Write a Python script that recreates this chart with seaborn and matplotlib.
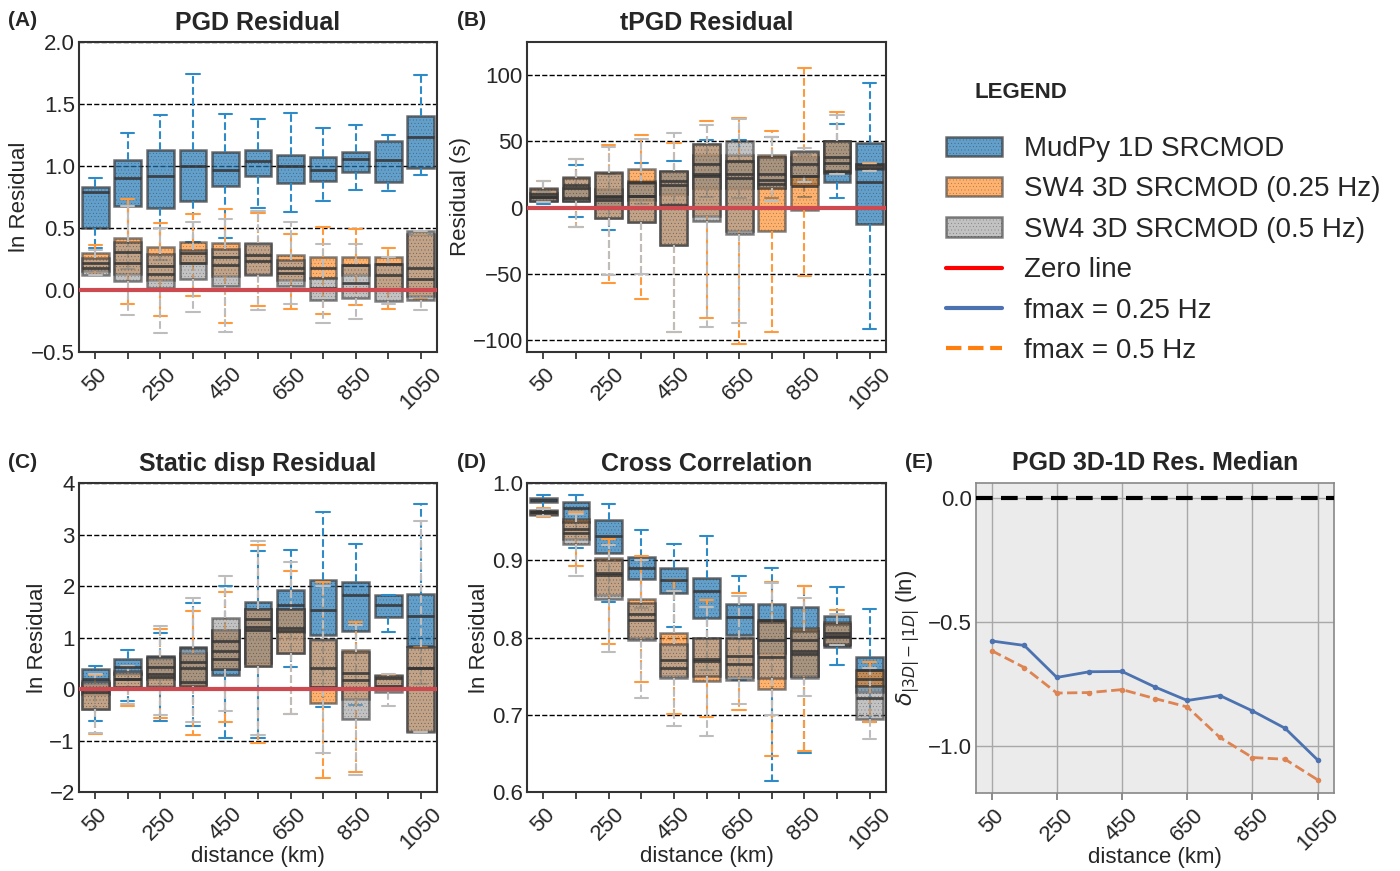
import numpy as np
import pandas as pd
import matplotlib
matplotlib.use("Agg")
import matplotlib.pyplot as plt
from matplotlib.patches import Patch
from matplotlib.lines import Line2D
import seaborn as sns

# distance bins (km)
distances = [50, 150, 250, 350, 450, 550, 650, 750, 850, 950, 1050]
dist_labels = [str(d) for d in distances]
shown_ticks = ["50", "", "250", "", "450", "", "650", "", "850", "", "1050"]

# five-number summaries per bin: (whisker low, q1, median, q3, whisker high)
pgd_mudpy = [(0.34, 0.50, 0.79, 0.83, 0.90), (0.17, 0.68, 0.90, 1.05, 1.27),
             (0.24, 0.66, 0.92, 1.13, 1.41), (0.39, 0.72, 1.00, 1.13, 1.74),
             (0.42, 0.84, 0.97, 1.11, 1.42), (0.66, 0.92, 1.04, 1.13, 1.38),
             (0.63, 0.86, 1.00, 1.09, 1.43), (0.72, 0.88, 0.97, 1.07, 1.31),
             (0.81, 0.95, 1.06, 1.11, 1.33), (0.80, 0.87, 1.05, 1.20, 1.25),
             (0.93, 0.98, 1.23, 1.40, 1.73)]
pgd_sw4_025 = [(0.13, 0.15, 0.22, 0.30, 0.36), (-0.11, 0.13, 0.31, 0.42, 0.73),
               (-0.21, 0.08, 0.19, 0.35, 0.54), (-0.05, 0.22, 0.30, 0.39, 0.61),
               (-0.27, 0.11, 0.27, 0.38, 0.65), (-0.13, 0.13, 0.28, 0.37, 0.62),
               (-0.15, 0.08, 0.18, 0.28, 0.45), (-0.19, 0.10, 0.18, 0.27, 0.51),
               (-0.12, 0.12, 0.20, 0.27, 0.49), (-0.15, 0.00, 0.21, 0.27, 0.34),
               (-0.07, -0.05, 0.18, 0.45, 0.45)]
pgd_sw4_05 = [(0.12, 0.12, 0.18, 0.26, 0.32), (-0.20, 0.07, 0.22, 0.39, 0.68),
              (-0.35, 0.02, 0.13, 0.29, 0.50), (-0.18, 0.09, 0.22, 0.32, 0.55),
              (-0.34, 0.03, 0.20, 0.33, 0.57), (-0.16, 0.12, 0.23, 0.38, 0.64),
              (-0.11, 0.035, 0.14, 0.24, 0.55), (-0.27, -0.08, 0.02, 0.10, 0.37),
              (-0.23, -0.065, 0.06, 0.20, 0.37), (-0.11, -0.086, 0.12, 0.21, 0.27),
              (-0.16, -0.083, 0.09, 0.476, 0.476)]

tpgd_mudpy = [(3, 5, 8, 11, 12), (-7, 5, 7, 15, 32), (-17, 0, 6, 14, 25),
              (2.5, 6, 9, 20, 34), (2.5, 10, 20, 27, 35), (8, 15, 25, 40, 51),
              (7, 15, 25, 35, 51), (7, 15, 25, 38, 53), (8, 18, 24, 38, 40),
              (7, 19.5, 28, 50, 63), (-92, -12.6, 19, 49, 94)]
tpgd_sw4_025 = [(5, 6, 10, 15, 20), (-15, 6, 17, 23, 37), (-57, -8, 9, 27, 47),
                (-69, -11, 19, 29, 55), (-94, -28, 1.8, 28, 49), (-83, -6, 24, 48, 65),
                (-103, -18, 22, 40, 68), (-94, -18, 18, 40, 58), (-52, -2, 16, 42, 105),
                (25, 26, 34, 50, 72), (29, 30, 32, 33, 34)]
tpgd_sw4_05 = [(4, 5, 8, 14, 20), (-15, 5, 15, 22, 37), (-51, -8, 8, 26, 46),
               (-50, -11, 9, 18.7, 52), (-94, -28, 17, 28, 56), (-90, -10, 33, 48, 62),
               (-87, -20, 35, 50, 67), (5, 15, 21, 38, 53), (19, 24, 33, 43, 45),
               (25, 27, 38, 50, 70), (28, 29, 30, 33, 33)]

static_mudpy = [(-0.62, -0.10, 0.19, 0.38, 0.45), (-0.23, 0.30, 0.43, 0.575, 0.75),
                (-0.62, 0.20, 0.43, 0.65, 1.09), (-0.72, 0.10, 0.52, 0.82, 1.67),
                (-0.96, 0.27, 0.74, 1.14, 2.00), (-0.96, 0.50, 1.21, 1.69, 2.67),
                (0.43, 1.10, 1.64, 1.93, 2.70), (-0.34, 1.04, 1.53, 2.11, 3.43),
                (-0.32, 1.12, 1.82, 2.08, 2.82), (1.10, 1.40, 1.64, 1.82, 1.82),
                (0.09, 0.83, 1.42, 1.84, 3.60)]
static_sw4_025 = [(-0.88, -0.38, -0.06, 0.12, 0.28), (-0.33, 0.03, 0.19, 0.32, 0.42),
                  (-0.56, 0.05, 0.24, 0.60, 1.16), (-0.90, 0.05, 0.14, 0.70, 1.51),
                  (-0.64, 0.38, 0.58, 1.14, 1.88), (-1.04, 0.45, 1.14, 1.55, 2.79),
                  (-0.49, 0.70, 1.19, 1.55, 2.30), (-1.72, -0.27, 0.045, 0.95, 2.08),
                  (-1.62, -0.20, 0.32, 0.75, 1.30), (0.00, 0.05, 0.22, 0.28, 0.28),
                  (-0.81, -0.81, 0.41, 0.82, 0.82)]
static_sw4_05 = [(-0.86, -0.38, 0.00, 0.15, 0.30), (-0.30, 0.03, 0.20, 0.35, 0.45),
                 (-0.51, 0.03, 0.30, 0.62, 1.23), (-0.64, 0.05, 0.41, 0.80, 1.77),
                 (-0.43, 0.38, 0.93, 1.37, 2.19), (-0.90, 0.45, 1.35, 1.55, 2.88),
                 (-0.49, 0.70, 1.12, 1.55, 2.46), (-1.25, 0.00, 0.40, 0.98, 2.00),
                 (-1.67, -0.58, 0.17, 0.72, 1.25), (-0.33, -0.05, 0.06, 0.26, 0.30),
                 (-0.83, -0.83, 0.41, 0.82, 3.26)]

xcorr_mudpy = [(0.965, 0.976, 0.978, 0.980, 0.984), (0.916, 0.950, 0.967, 0.975, 0.985),
               (0.846, 0.910, 0.932, 0.952, 0.973), (0.838, 0.876, 0.890, 0.904, 0.939),
               (0.814, 0.858, 0.875, 0.890, 0.921), (0.758, 0.825, 0.860, 0.877, 0.931),
               (0.745, 0.803, 0.827, 0.844, 0.880), (0.614, 0.780, 0.823, 0.844, 0.890),
               (0.650, 0.750, 0.797, 0.840, 0.867), (0.764, 0.788, 0.801, 0.828, 0.865),
               (0.690, 0.730, 0.758, 0.775, 0.837)]
xcorr_sw4_025 = [(0.956, 0.959, 0.962, 0.965, 0.968), (0.893, 0.928, 0.940, 0.953, 0.962),
                 (0.792, 0.855, 0.884, 0.903, 0.928), (0.743, 0.800, 0.831, 0.850, 0.905),
                 (0.701, 0.750, 0.771, 0.806, 0.874), (0.697, 0.744, 0.772, 0.800, 0.848),
                 (0.706, 0.749, 0.766, 0.800, 0.858), (0.647, 0.733, 0.775, 0.823, 0.872),
                 (0.653, 0.750, 0.782, 0.812, 0.867), (0.790, 0.790, 0.806, 0.820, 0.835),
                 (0.690, 0.737, 0.746, 0.758, 0.768)]
xcorr_sw4_05 = [(0.957, 0.960, 0.962, 0.964, 0.966), (0.879, 0.921, 0.935, 0.950, 0.960),
                (0.781, 0.850, 0.881, 0.900, 0.920), (0.722, 0.797, 0.823, 0.845, 0.900),
                (0.686, 0.747, 0.760, 0.792, 0.860), (0.673, 0.750, 0.770, 0.800, 0.840),
                (0.714, 0.745, 0.776, 0.800, 0.854), (0.700, 0.748, 0.797, 0.820, 0.870),
                (0.724, 0.747, 0.778, 0.808, 0.851), (0.790, 0.792, 0.802, 0.818, 0.830),
                (0.669, 0.694, 0.722, 0.737, 0.760)]

# panel E: median 3D-1D PGD residual difference
median_diff_025 = [-0.577, -0.595, -0.724, -0.701, -0.700, -0.762, -0.817, -0.797, -0.859, -0.929, -1.057]
median_diff_05 = [-0.616, -0.684, -0.787, -0.785, -0.773, -0.809, -0.843, -0.966, -1.047, -1.054, -1.137]

series_names = ["MudPy 1D SRCMOD", "SW4 3D SRCMOD (0.25 Hz)", "SW4 3D SRCMOD (0.5 Hz)"]
box_colors = ["#1f77b4", "#ff7f0e", "#9a9a9a"]
box_alpha = [0.7, 0.6, 0.6]
whisker_colors = ["#2e8bc8", "#ff9a3c", "#bdbdbd"]
edge = "#333333"

sns.set_style("ticks")
plt.rcParams["font.family"] = ["Liberation Sans", "DejaVu Sans"]
plt.rcParams["hatch.linewidth"] = 0.15
plt.rcParams["axes.linewidth"] = 1.5
plt.rcParams["xtick.major.size"] = 5
plt.rcParams["ytick.major.size"] = 0
plt.rcParams["ytick.major.pad"] = 3


def draw_series(ax, stats, i):
    df = pd.DataFrame({"distance": np.repeat(dist_labels, 5),
                       "value": np.ravel(np.array(stats, dtype=float))})
    sns.boxplot(data=df, x="distance", y="value", order=dist_labels, whis=(0, 100),
                width=0.82, color=box_colors[i], saturation=1, linecolor=edge,
                linewidth=1.8, showfliers=False, ax=ax,
                boxprops=dict(alpha=box_alpha[i], hatch="....."),
                whiskerprops=dict(color=whisker_colors[i], linestyle="--", linewidth=1.5),
                capprops=dict(color=whisker_colors[i], linewidth=1.5),
                medianprops=dict(color=edge, linewidth=2, alpha=0.85))


def style_xaxis(ax, xlabel):
    ax.tick_params(labelsize=16, width=1.2)
    for lab in ax.get_xticklabels():
        lab.set_rotation(45)
        lab.set_ha("center")
    if xlabel:
        ax.set_xlabel(xlabel, fontsize=16)
        ax.xaxis.set_label_coords(0.5, -0.175)
    else:
        ax.set_xlabel("")


def box_panel(ax, all_stats, title, ylim, yticks, ylabel, xlabel=None):
    for i, stats in enumerate(all_stats):
        draw_series(ax, stats, i)
    ax.axhline(0, color="#cc4a50", lw=3, zorder=6)
    ax.yaxis.grid(True, linestyle="--", color="black", linewidth=1)
    ax.set_axisbelow(True)
    ax.set_ylim(*ylim)
    ax.set_yticks(yticks)
    ax.set_xlim(-0.5, 10.5)
    ax.set_xticks(range(len(distances)))
    ax.set_xticklabels(shown_ticks)
    style_xaxis(ax, xlabel)
    ax.set_title(title, fontsize=18, fontweight="bold", pad=9)
    ax.set_ylabel(ylabel, fontsize=16, labelpad=1)
    for s in ax.spines.values():
        s.set_visible(True)
        s.set_color("#333333")


fig = plt.figure(figsize=(14, 8.71), dpi=100)
W, H = 1400, 871


def add_axes(left, top, right, bottom):
    return fig.add_axes([left / W, 1 - bottom / H, (right - left) / W, (bottom - top) / H])


ax_a = add_axes(79, 42, 437, 352)
ax_b = add_axes(527, 42, 886, 352)
ax_c = add_axes(79, 483, 437, 792)
ax_d = add_axes(527, 483, 886, 792)
ax_e = add_axes(976, 483, 1334, 793)

box_panel(ax_a, [pgd_mudpy, pgd_sw4_025, pgd_sw4_05], "PGD Residual",
          (-0.5, 2.0), np.arange(-0.5, 2.01, 0.5), "ln Residual")
box_panel(ax_b, [tpgd_mudpy, tpgd_sw4_025, tpgd_sw4_05], "tPGD Residual",
          (-109, 125), [-100, -50, 0, 50, 100], "Residual (s)")
box_panel(ax_c, [static_mudpy, static_sw4_025, static_sw4_05], "Static disp Residual",
          (-2, 4), range(-2, 5), "ln Residual", "distance (km)")
box_panel(ax_d, [xcorr_mudpy, xcorr_sw4_025, xcorr_sw4_05], "Cross Correlation",
          (0.6, 1.0), [0.6, 0.7, 0.8, 0.9, 1.0], "ln Residual", "distance (km)")
ax_d.set_yticklabels(["0.6", "0.7", "0.8", "0.9", "1.0"])

# panel E
df_e = pd.DataFrame({"distance": distances, "f025": median_diff_025, "f05": median_diff_05})
ax_e.set_facecolor("#ebebeb")
sns.lineplot(data=df_e, x="distance", y="f025", color="#4c72b0", lw=2, marker="o",
             markersize=4, markeredgewidth=0, ax=ax_e)
sns.lineplot(data=df_e, x="distance", y="f05", color="#dd8452", lw=2, linestyle="--",
             marker="o", markersize=4, markeredgewidth=0, ax=ax_e)
ax_e.axhline(0, color="black", lw=3, linestyle="--", dashes=(4, 2), zorder=5)
ax_e.grid(True, color="#a8a8a8", linewidth=1)
ax_e.set_axisbelow(True)
ax_e.set_xlim(2, 1100)
ax_e.set_ylim(-1.19, 0.06)
ax_e.set_xticks(distances[::2])
ax_e.set_xticklabels(dist_labels[::2])
ax_e.set_yticks([0.0, -0.5, -1.0])
style_xaxis(ax_e, "distance (km)")
ax_e.tick_params(color="#777777")
ax_e.set_title("PGD 3D-1D Res. Median", fontsize=18, fontweight="bold", pad=9)
ax_e.set_ylabel(r"$\delta_{|3D|-|1D|}$ (ln)", fontsize=16, labelpad=4)
for s in ax_e.spines.values():
    s.set_color("#888888")
    s.set_linewidth(1.2)

# panel letters
for label, (px, py) in zip(["(A)", "(B)", "(C)", "(D)", "(E)"],
                           [(8, 21), (457, 21), (8, 462), (457, 462), (905, 462)]):
    fig.text(px / W, 1 - py / H, label, fontsize=15, fontweight="bold", va="center", ha="left")

# legend
fig.text(975 / W, 1 - 93 / H, "LEGEND", fontsize=16, fontweight="bold", va="center", ha="left")
handles = [Patch(facecolor=box_colors[i], edgecolor=edge, alpha=box_alpha[i], hatch=".....",
                 linewidth=1.8) for i in range(3)]
handles += [Line2D([], [], color="red", lw=3),
            Line2D([], [], color="#4c72b0", lw=3),
            Line2D([], [], color="#ff7f0e", lw=3, linestyle="--")]
labels = series_names + ["Zero line", "fmax = 0.25 Hz", "fmax = 0.5 Hz"]
fig.legend(handles, labels, loc="upper left", bbox_to_anchor=(946 / W, 1 - 136 / H),
           fontsize=20, frameon=False, handlelength=2.0, handleheight=0.7,
           handletextpad=0.8, labelspacing=0.52, borderaxespad=0, borderpad=0)

fig.savefig("out.png", dpi=100)
